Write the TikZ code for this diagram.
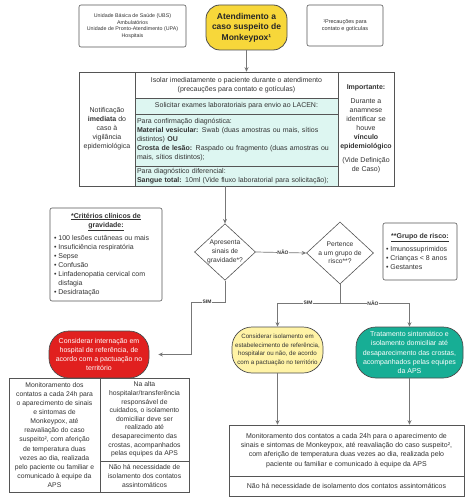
\documentclass[tikz,border=0pt]{standalone}
\usepackage{fontspec}
\setmainfont{Liberation Sans}
\usetikzlibrary{arrows.meta,shapes.geometric,calc}
\definecolor{bord}{HTML}{555555}
\definecolor{txt}{HTML}{333333}
\definecolor{lcyan}{HTML}{DDF6F1}
\definecolor{ytop}{HTML}{F7D73A}
\definecolor{ylight}{HTML}{FFF3A6}
\definecolor{redb}{HTML}{E1201F}
\definecolor{tealb}{HTML}{17AE95}
\definecolor{linec}{HTML}{777777}
\newcommand\fsz[2]{\fontsize{#1}{#2}\selectfont}
\begin{document}
\begin{tikzpicture}[x=1pt,y=-1pt,
  box/.style={draw=bord, line width=0.6pt, text=txt, align=center, inner sep=1pt, font=\fsz{7}{9}},
  rbox/.style={box, rounded corners=2pt},
  pill/.style={box, rounded corners=20pt, draw=black!70, line width=0.7pt},
  dia/.style={draw=bord, line width=0.6pt, text=txt, diamond, aspect=1.08, inner sep=0pt, align=center, font=\fsz{6.7}{8.7}, fill=white},
  arr/.style={draw=linec, line width=0.7pt, -{Stealth[length=4.5pt,width=4pt]}},
  ln/.style={draw=linec, line width=0.7pt},
  lbl/.style={font=\bfseries\fsz{5}{6}, text=txt, fill=white, inner sep=0.6pt}
]
\useasboundingbox[fill=white] (0,0) rectangle (474,502);

% top row
\node[rbox, minimum width=107pt, minimum height=42pt, font=\fsz{5.3}{6.6}] (ubs) at (132.5,26)
  {Unidade Básica de Saúde (UBS)\\ Ambulatórios\\ Unidade de Pronto-Atendimento (UPA)\\ Hospitais};
\node[box, fill=ytop, draw=black!70, line width=0.8pt, rounded corners=14pt, minimum width=81pt, minimum height=45pt,
  font=\bfseries\fsz{8.5}{10.5}, text=black!85] (start) at (246.5,27.5)
  {Atendimento a\\ caso suspeito de\\ Monkeypox¹};
\node[rbox, minimum width=76pt, minimum height=41pt, font=\fsz{5.5}{7}] (prec) at (345,25.5)
  {¹Precauções para\\ contato e gotículas};

% main table
\node[box, minimum width=56pt, minimum height=114pt] (notif) at (107,129)
  {Notificação\\ \textbf{imediata} do\\ caso à\\ vigilância\\ epidemiológica};
\node[box, minimum width=203pt, minimum height=26pt] (isolar) at (236.5,85)
  {Isolar imediatamente o paciente durante o atendimento\\ (precauções para contato e gotículas)};
\node[box, fill=lcyan, minimum width=203pt, minimum height=16pt] (solic) at (236.5,106)
  {Solicitar exames laboratoriais para envio ao LACEN:};
\node[box, fill=lcyan, align=left, text width=199pt, inner sep=2pt, minimum height=52pt] (confirm) at (236.5,140)
  {Para confirmação diagnóstica:\\ \textbf{Material vesicular:} Swab (duas amostras ou mais, sítios\\ distintos) \textbf{OU}\\ \textbf{Crosta de lesão:} Raspado ou fragmento (duas amostras ou\\ mais, sítios distintos);};
\node[box, fill=lcyan, align=left, text width=199pt, inner sep=2pt, minimum height=20pt] (difer) at (236.5,176)
  {Para diagnóstico diferencial:\\ \textbf{Sangue total:} 10ml (Vide fluxo laboratorial para solicitação);};
\node[box, minimum width=56pt, minimum height=114pt] (imp) at (366,129)
  {\textbf{Importante:}\\[5pt] Durante a\\ anamnese\\ identificar se\\ houve\\ \textbf{vínculo}\\ \textbf{epidemiológico}\\[5pt] (Vide Definição\\ de Caso)};

% decisions
\node[dia] (d1) at (225,252) {Apresenta\\ sinais de\\ gravidade*?};
\node[dia] (d2) at (340,253) {Pertence\\ a um grupo de\\ risco**?};

% side notes
\node[rbox, minimum width=112pt, minimum height=93pt] (crit) at (106,254.5)
  {\underline{\textbf{*Critérios clínicos de}}\\ \underline{\textbf{gravidade:}}\\[4pt]
   \begin{minipage}{104pt}\raggedright\fsz{7}{9}
   • 100 lesões cutâneas ou mais\\ • Insuficiência respiratória\\ • Sepse\\ • Confusão\\
   • Linfadenopatia cervical com\\ \phantom{• }disfagia\\ • Desidratação\end{minipage}};
\node[rbox, minimum width=74pt, minimum height=57pt] (grupo) at (420,251.5)
  {\underline{\textbf{**Grupo de risco:}}\\[4pt]
   \begin{minipage}{68pt}\raggedright\fsz{7}{9}
   • Imunossuprimidos\\ • Crianças < 8 anos\\ • Gestantes\end{minipage}};

% outcomes
\node[pill, fill=redb, text=white, minimum width=100pt, minimum height=47pt] (red) at (99,354.5)
  {Considerar internação em\\ hospital de referência, de\\ acordo com a pactuação no\\ território};
\node[pill, fill=ylight, minimum width=91pt, minimum height=46pt, font=\fsz{6.2}{8.6}, text=black!80] (yel) at (277.5,350)
  {Considerar isolamento em\\ estabelecimento de referência,\\ hospitalar ou não, de acordo\\ com a pactuação no território};
\node[pill, fill=tealb, text=white, minimum width=107pt, minimum height=51pt, font=\fsz{7}{9.2}] (teal) at (409.5,352.5)
  {Tratamento sintomático e\\ isolamento domiciliar até\\ desaparecimento das crostas,\\ acompanhados pelas equipes\\ da APS};

% bottom boxes
\node[box, minimum width=91pt, minimum height=114pt, font=\fsz{6.8}{9.1}] (monL) at (54.5,435)
  {Monitoramento dos\\ contatos a cada 24h para\\ o aparecimento de sinais\\ e sintomas de\\ Monkeypox, até\\ reavaliação do caso\\ suspeito², com aferição\\ de temperatura duas\\ vezes ao dia, realizada\\ pelo paciente ou familiar e\\ comunicado à equipe da\\ APS};
\node[box, minimum width=89pt, minimum height=83pt, font=\fsz{6.8}{8.6}] (altaT) at (144.5,419.5)
  {Na alta\\ hospitalar/transferência\\ responsável de\\ cuidados, o isolamento\\ domiciliar deve ser\\ realizado até\\ desaparecimento das\\ crostas, acompanhados\\ pelas equipes da APS};
\node[box, minimum width=89pt, minimum height=31pt, font=\fsz{6.8}{9}] (altaB) at (144.5,476.5)
  {Não há necessidade de\\ isolamento dos contatos\\ assintomáticos};
\node[box, minimum width=235pt, minimum height=51pt, font=\fsz{7}{9.3}] (monR) at (346.5,450.5)
  {Monitoramento dos contatos a cada 24h para o aparecimento de\\ sinais e sintomas de Monkeypox, até reavaliação do caso suspeito²,\\ com aferição de temperatura duas vezes ao dia, realizada pelo\\ paciente ou familiar e comunicado à equipe da APS};
\node[box, minimum width=235pt, minimum height=20pt, font=\fsz{7}{9.3}] (monRb) at (346.5,486)
  {Não há necessidade de isolamento dos contatos assintomáticos};

% connectors
\draw[arr] (start.south) -- (start.south |- isolar.north);
\draw[arr] (d1.north |- difer.south) -- (d1.north);
\coordinate (sima) at (191,302);
\draw[arr, shorten >=9pt] (d1.south) |- (sima) |- (red.east);
\node[lbl] (simL) at (207,302) {SIM};
\draw[arr] (d1.east) -- (d2.west);
\node[lbl] (naoA) at (283,252) {NÃO};
\coordinate (br) at (340,303);
\draw[ln] (d2.south) -- (br);
\draw[arr] (br) -| (yel.north);
\draw[arr] (br) -| (teal.north);
\node[lbl] (simR) at (308,303) {SIM};
\node[lbl] (naoR) at (373,303) {NÃO};
\draw[arr] (yel.south) -- (yel.south |- monR.north);
\draw[arr] (teal.south) -- (teal.south |- monR.north);
\end{tikzpicture}
\end{document}
